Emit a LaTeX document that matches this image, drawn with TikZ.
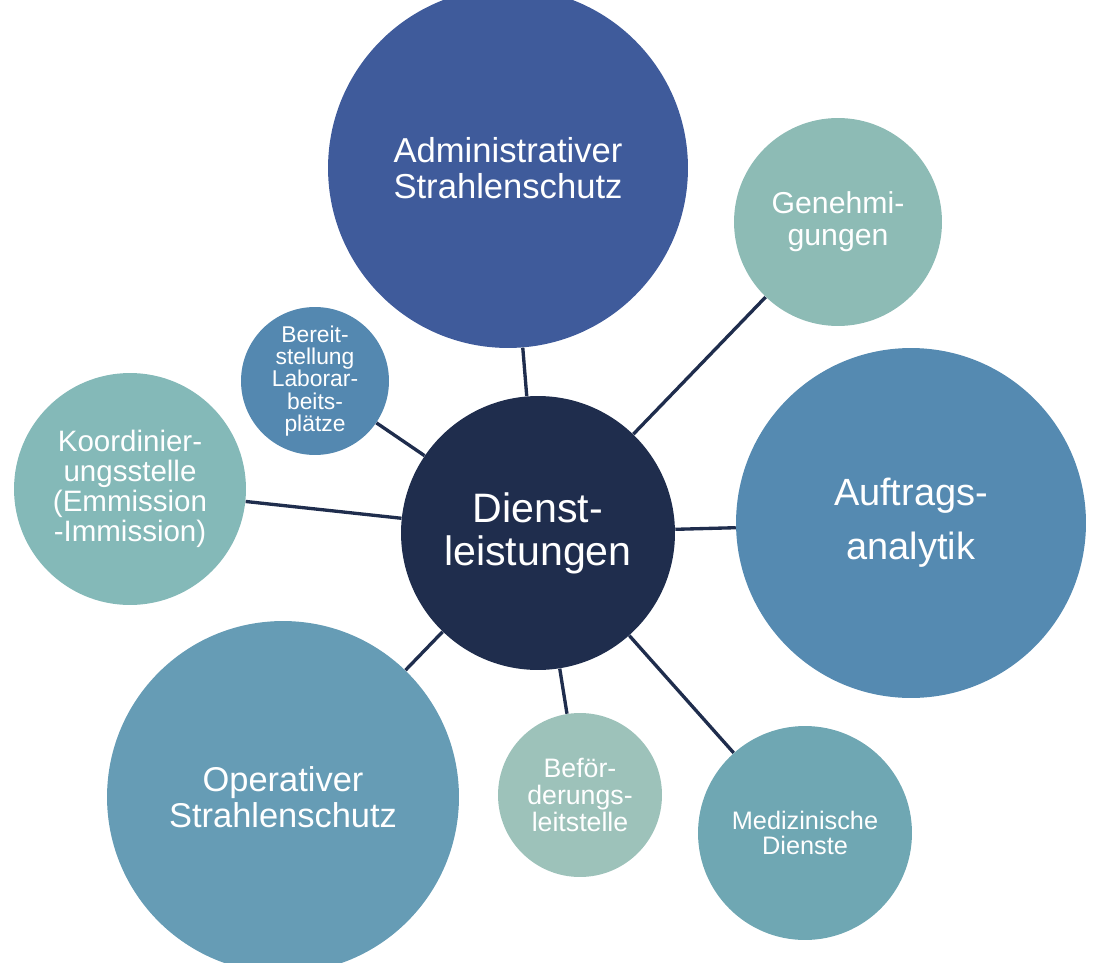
\documentclass[tikz,border=0pt]{standalone}
\usepackage{fontspec}
\setmainfont{Liberation Sans}
\usepackage{tikz}
\definecolor{Navy}{HTML}{1F2D4D}
\definecolor{Royal}{HTML}{3F5B9B}
\definecolor{Steel}{HTML}{558AB1}
\definecolor{SteelLight}{HTML}{669CB5}
\definecolor{Sea}{HTML}{6FA7B3}
\definecolor{Sage}{HTML}{8DBBB5}
\definecolor{SageLight}{HTML}{9DC2BA}
\definecolor{Aqua}{HTML}{84B9B8}
\definecolor{Lab}{HTML}{5488B0}
\tikzset{
  bubble/.style={
    circle, fill=#1, text=white, inner sep=0pt, align=center
  },
  link/.style={line width=1.9pt, draw=Navy}
}

\begin{document}
\begin{tikzpicture}[x=0.02cm,y=-0.02cm]
    \useasboundingbox (0,0) rectangle (1097,962);
    % hub
    \node[bubble=Navy,minimum size=5.48cm,font=\fontsize{23.4}{24.4}\selectfont] (hub) at (538,533) {Dienst-\\leistungen};
    % satellites
    \node[bubble=Royal,minimum size=7.2cm,font=\fontsize{19.7}{20.4}\selectfont] (admin) at (508,168) {Administrativer\\Strahlenschutz};
    \node[bubble=Sage,minimum size=4.16cm,font=\fontsize{17.2}{18.1}\selectfont] (permits) at (838,222) {Genehmi-\\gungen};
    \node[bubble=Steel,minimum size=7.0cm,font=\fontsize{21.6}{30.6}\selectfont] (contract) at (911,523) {Auftrags-\\analytik};
    \node[bubble=Sea,minimum size=4.28cm,font=\fontsize{14.4}{13.8}\selectfont] (medical) at (805,833) {Medizinische\\Dienste};
    \node[bubble=SageLight,minimum size=3.28cm,font=\fontsize{15.2}{15.6}\selectfont] (transport) at (580,795) {Beför-\\derungs-\\leitstelle};
    \node[bubble=SteelLight,minimum size=7.04cm,font=\fontsize{19.6}{20.4}\selectfont] (operative) at (283,797) {Operativer\\Strahlenschutz};
    \node[bubble=Aqua,minimum size=4.64cm,font=\fontsize{16.8}{17.2}\selectfont] (coord) at (130,489) {Koordinier-\\ungsstelle\\(Emmission\\-Immission)};
    \node[bubble=Lab,minimum size=2.96cm,font=\fontsize{13}{12.6}\selectfont] (labspace) at (315,381) {Bereit-\\stellung\\Laborar-\\beits-\\plätze};
    % spokes
    \foreach \n in {admin,permits,contract,medical,transport,operative,coord,labspace}
      \draw[link] (hub)--(\n);
  \end{tikzpicture}
\end{document}
